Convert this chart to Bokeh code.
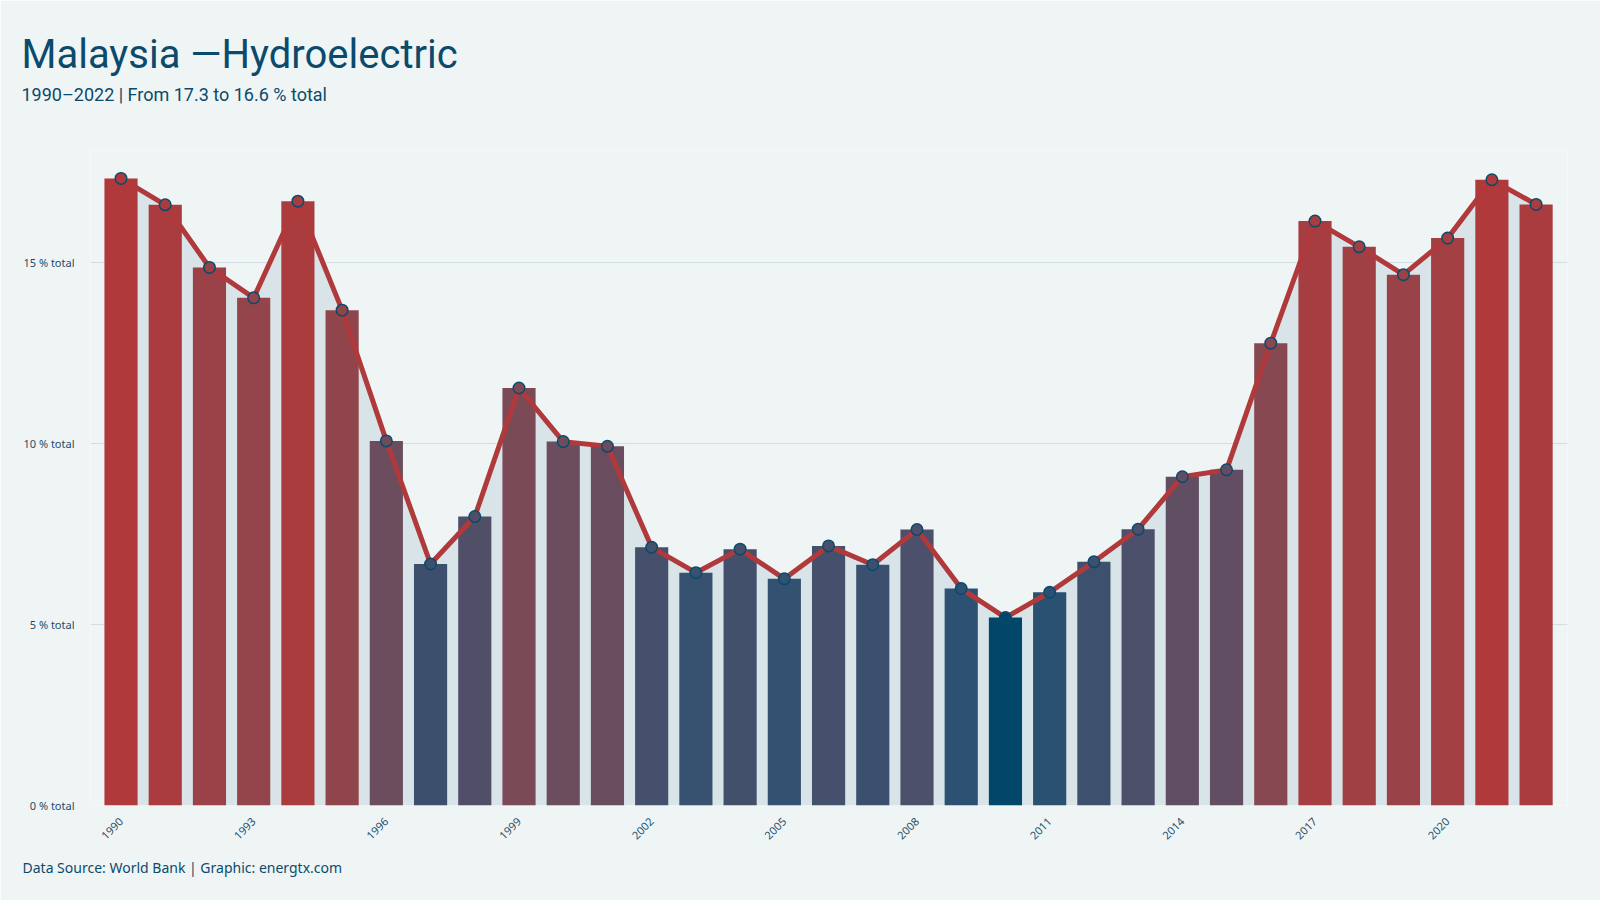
from bokeh.plotting import figure
from bokeh.models import Range1d, FixedTicker, Title
from bokeh.embed import file_html
from bokeh.resources import INLINE

# Hydroelectric share of Malaysia's electricity production (% of total)
years = list(range(1990, 2023))
share = [17.32, 16.59, 14.86, 14.02, 16.69, 13.68, 10.07, 6.67, 7.98, 11.53,
         10.05, 9.92, 7.13, 6.43, 7.08, 6.26, 7.17, 6.65, 7.62, 5.99,
         5.19, 5.89, 6.73, 7.63, 9.08, 9.27, 12.77, 16.14, 15.43, 14.66,
         15.67, 17.28, 16.60]

y_ticks = [0, 5, 10, 15]
y_tick_labels = ["0 % total", "5 % total", "10 % total", "15 % total"]
x_ticks = list(range(1990, 2022, 3))
x_tick_labels = [str(y) for y in x_ticks]

title_text = "Malaysia \u2014Hydroelectric"
subtitle_text = "1990\u20132022 | From 17.3 to 16.6 % total"
source_text = "Data Source: World Bank | Graphic: energtx.com"

BG = "#eff5f5"
INK = "#0b4a6b"
HIGH = "#b0393b"
# colour stops of the value ramp (position 0..1 across the value range)
RAMP_STOPS = [(0.0, "#02476a"), (0.06, "#2b5172"), (1.0, HIGH)]


# --- colour ramp interpolated in CIE Lab -----------------------------------
def _hex_to_rgb(h):
    h = h.lstrip("#")
    return [int(h[i:i + 2], 16) / 255 for i in (0, 2, 4)]


def _lin(c):
    return c / 12.92 if c <= 0.04045 else ((c + 0.055) / 1.055) ** 2.4


def _gam(c):
    c = max(0.0, min(1.0, c))
    return 12.92 * c if c <= 0.0031308 else 1.055 * c ** (1 / 2.4) - 0.055


WHITE = (0.95047, 1.0, 1.08883)


def _f(t):
    return t ** (1 / 3) if t > 0.008856 else 7.787 * t + 16 / 116


def _finv(t):
    return t ** 3 if t ** 3 > 0.008856 else (t - 16 / 116) / 7.787


def hex_to_lab(h):
    r, g, b = (_lin(c) for c in _hex_to_rgb(h))
    x = 0.4124 * r + 0.3576 * g + 0.1805 * b
    y = 0.2126 * r + 0.7152 * g + 0.0722 * b
    z = 0.0193 * r + 0.1192 * g + 0.9505 * b
    fx, fy, fz = _f(x / WHITE[0]), _f(y / WHITE[1]), _f(z / WHITE[2])
    return (116 * fy - 16, 500 * (fx - fy), 200 * (fy - fz))


def lab_to_hex(L, a, b):
    fy = (L + 16) / 116
    fx = fy + a / 500
    fz = fy - b / 200
    x, y, z = WHITE[0] * _finv(fx), WHITE[1] * _finv(fy), WHITE[2] * _finv(fz)
    r = 3.2406 * x - 1.5372 * y - 0.4986 * z
    g = -0.9689 * x + 1.8758 * y + 0.0415 * z
    bl = 0.0557 * x - 0.2040 * y + 1.0570 * z
    return "#%02x%02x%02x" % tuple(round(_gam(c) * 255) for c in (r, g, bl))


vmin, vmax = min(share), max(share)


def ramp(v):
    t = (v - vmin) / (vmax - vmin)
    for (t0, c0), (t1, c1) in zip(RAMP_STOPS[:-1], RAMP_STOPS[1:]):
        if t <= t1:
            s = (t - t0) / (t1 - t0)
            l0, l1 = hex_to_lab(c0), hex_to_lab(c1)
            return lab_to_hex(*[a + (b - a) * s for a, b in zip(l0, l1)])
    return RAMP_STOPS[-1][1]


bar_colors = [ramp(v) for v in share]

# --- chart --------------------------------------------------------------------
p = figure(width=1600, height=900, output_backend="svg", toolbar_location=None,
           x_range=Range1d(1989.31, 2022.71), y_range=Range1d(0, 18.09),
           min_border_left=90, min_border_right=33,
           min_border_top=150, min_border_bottom=95,
           background_fill_color=BG, border_fill_color=BG)
p.outline_line_color = None

# area under the trend line
p.varea(x=years, y1=[0] * len(years), y2=share, fill_color="#d8e4e8")

# bars coloured by value
p.vbar(x=years, top=share, bottom=0, width=0.75,
       fill_color=bar_colors, line_color=None)

# trend line with markers
p.line(years, share, line_color=HIGH, line_width=5, line_join="round")
p.scatter(years, share, size=11.5, fill_color=bar_colors,
          line_color=INK, line_width=1.5)

# axes and grid
p.xgrid.grid_line_color = None
p.ygrid.grid_line_color = "#d2dee1"
p.ygrid.grid_line_width = 1.2
p.ygrid.ticker = FixedTicker(ticks=y_ticks)

p.yaxis.ticker = FixedTicker(ticks=y_ticks)
p.yaxis.major_label_overrides = dict(zip(y_ticks, y_tick_labels))
p.xaxis.ticker = FixedTicker(ticks=x_ticks)
p.xaxis.major_label_overrides = dict(zip(x_ticks, x_tick_labels))
p.xaxis.major_label_orientation = 0.785398

for ax in (p.xaxis, p.yaxis):
    ax.axis_line_color = None
    ax.major_tick_line_color = None
    ax.minor_tick_line_color = None
    ax.major_label_text_font = "Noto Sans"
    ax.major_label_text_font_size = "11px"
    ax.major_label_text_color = "#1d4d6b"
p.yaxis.major_label_standoff = 10
p.xaxis.major_label_standoff = 8

# --- headings (stacked outward from the plot area) -------------------------------
p.add_layout(Title(text=" ", text_font="Roboto", text_font_size="20px",
                   standoff=20), "above")
p.add_layout(Title(text=subtitle_text, text_font="Roboto", text_font_size="18px",
                   text_font_style="normal", text_color=INK,
                   align="left", offset=-69, standoff=0), "above")
p.add_layout(Title(text=title_text, text_font="Roboto", text_font_size="40px",
                   text_font_style="normal", text_color=INK,
                   align="left", offset=-69, standoff=8), "above")

# --- source line ------------------------------------------------------------------
p.add_layout(Title(text=source_text, text_font="Noto Sans", text_font_size="14px",
                   text_font_style="normal", text_color=INK,
                   align="left", offset=-68, standoff=21), "below")

open("out.html", "w").write(file_html(p, INLINE))
